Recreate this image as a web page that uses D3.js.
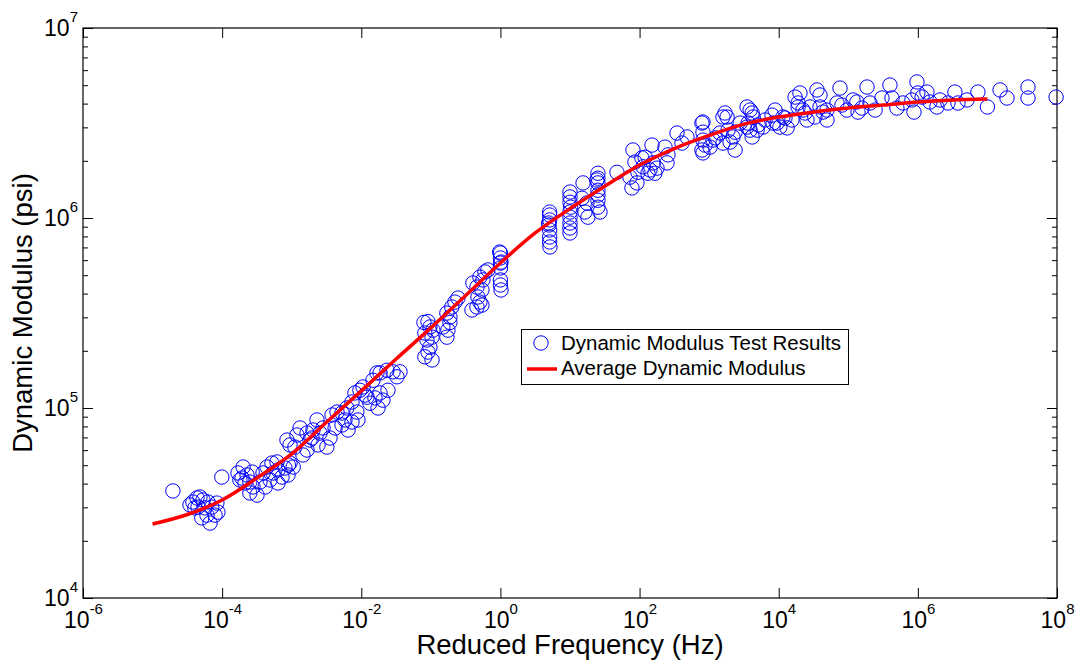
<!DOCTYPE html>
<html>
<head>
<meta charset="utf-8">
<script src="https://cdn.jsdelivr.net/npm/d3@7"></script>
<style>
  body { margin: 0; background: #fff; }
  text { font-family: "Liberation Sans", Arial, Helvetica, sans-serif; }
</style>
</head>
<body>
<script>
// test results: reduced frequency (Hz) and dynamic modulus (psi)
var testFreq = [
  1.96e-5, 9.9e-5, 3.8e-5, 4.35e-5, 4.8e-5, 5.3e-5, 6.25e-5, 4.5e-5, 5.65e-5, 7.1e-5,
  8.4e-5, 8.7e-5, 7.9e-5, 6.05e-5, 6.7e-5, 5.1e-5, 4.05e-5, 3.45e-5,
  2.0e-4, 1.69e-4, 1.93e-4, 2.28e-4, 2.7e-4, 2.5e-4, 2.13e-4, 2.78e-4, 3.17e-4, 2.5e-4,
  1.8e-4, 3.5e-4, 3.87e-4, 4.42e-4, 5.2e-4, 6.15e-4, 6.35e-4, 5.4e-4, 7.25e-4, 8.0e-4,
  9.45e-4, 4.88e-4, 6.35e-4, 4.15e-4, 8.85e-4, 1.05e-3, 9.45e-4,
  8.55e-4, 1.11e-3, 8.95e-4, 1.45e-3, 1.66e-3, 1.83e-3, 1.66e-3, 2.02e-3, 1.96e-3, 2.55e-3,
  2.82e-3, 3.2e-3, 3.55e-3, 4.2e-3, 3.8e-3, 4.48e-3, 5.28e-3, 5.83e-3, 6.45e-3, 7.35e-3,
  8.65e-3, 8.95e-3, 7.35e-3, 8.1e-3, 9.55e-3, 1.06e-2, 1.21e-2, 1.33e-2, 1.57e-2, 1.86e-2,
  1.74e-2, 1.47e-2, 1.86e-2, 2.34e-2, 2.86e-2, 3.26e-2, 2.42e-2, 2.05e-2, 1.68e-2, 1.32e-3,
  1.19e-3, 2.31e-3, 5.28e-3, 2.39e-3, 6.2e-3, 1.13e-2,
  3.6e-2, 8.2e-2, 9.1e-2, 9.7e-2, 8.8e-2, 1.04e-1, 8.2e-2, 1.07e-1, 9.7e-2, 7.95e-2,
  9.1e-2, 1.04e-1, 1.70e-1, 1.76e-1, 1.88e-1, 1.70e-1, 2.0e-1, 2.22e-1, 2.45e-1, 1.88e-1,
  1.49e-1, 4.6e-1, 5.07e-1, 4.75e-1, 5.42e-1, 4.6e-1, 5.6e-1, 5.07e-1, 5.99e-1, 4.02e-1,
  3.9e-1, 5.42e-1, 6.6e-1, 1.0, 1.0, 1.0, 1.0, 1.0, 1.0, 1.02, 0.975, 1.02,
  5.1, 5.1, 5.1, 5.0, 5.1, 5.1, 5.1, 5.15, 4.95,
  10, 10, 10, 10.2, 10, 10, 10, 10, 10,
  15.4, 17.5, 16.4, 18.1, 14.9,
  25.2, 25.2, 25.2, 25.2, 25.2, 25.2, 25.2, 27.0, 24.4,
  47.3, 80.3, 72.7, 77.7, 91.7, 94.7, 112, 132, 151, 156, 178, 108, 85.8,
  120, 141, 166, 232, 256, 248, 345, 480, 406, 788,
  815, 788, 1030, 1220, 1690, 1810, 1580, 2000, 1870, 2360,
  2790, 3510, 3880, 4150, 3510, 3880, 5060, 4290, 6370, 8870,
  9470, 11500, 13200, 17200, 20200, 19000, 22300, 25500, 35500, 39200,
  33000, 43300, 49400, 76000, 81000, 95500, 117000, 138000,
  815, 815, 875, 815, 1140, 1430, 1580, 2200, 2360, 3630,
  4890, 4150, 5970, 8000, 8300, 10400, 12300, 15500, 19000, 23900,
  28200, 39200, 49400, 68800, 133000, 157000, 186000, 205000, 243000, 305000,
  397000, 425000, 500000, 610000, 820000, 970000, 1.0e6, 880000, 1.15e6, 1.35e6,
  1.49e6, 1.88e6, 2.08e6, 2.71e6, 3.41e6, 3.77e6, 5.08e6, 7.3e6, 1.0e7, 1.52e7,
  1.91e7, 3.83e7, 3.83e7, 9.7e7
];
var testModulus = [
  36600, 43300, 32000, 33600, 34000, 32800, 32000, 30100, 29800, 30100,
  31600, 28300, 27300, 27300, 24800, 26400, 29800, 30900,
  48900, 45500, 42800, 44400, 46000, 40800, 40300, 38400, 34800, 35700,
  41800, 40800, 45500, 48900, 51300, 52000, 47200, 45500, 43300, 48300,
  51300, 41800, 40300, 38400, 44400, 48900, 63900,
  67800, 62300, 50100, 56600, 60100, 67800, 73800, 76600, 69500, 73800,
  78500, 62300, 69500, 78500, 91900, 95200, 94100, 86500, 76600, 84400,
  95200, 86500, 107500, 120000, 124000, 129000, 114000, 106000, 113000, 120000,
  100000, 140000, 153000, 158000, 155000, 146000, 124000, 110000, 153000, 78500,
  72100, 86500, 81400, 63900, 100000, 117000,
  155000, 186000, 197000, 209000, 228000, 236000, 248000, 257000, 267000, 282000,
  285000, 179000, 236000, 257000, 282000, 316000, 340000, 361000, 379000, 301000,
  267000, 340000, 361000, 384000, 418000, 433000, 472000, 489000, 520000, 455000,
  328000, 348000, 533000, 654000, 616000, 579000, 546000, 472000, 444000, 418000, 662000, 586000,
  1075000, 1037000, 977000, 919000, 865000, 794000, 748000, 704000, 941000,
  1370000, 1290000, 1210000, 1140000, 1075000, 1010000, 941000, 886000, 834000,
  1530000, 1200000, 1075000, 1010000, 1270000,
  1720000, 1620000, 1530000, 1400000, 1320000, 1240000, 1140000, 1075000, 1585000,
  1740000, 2280000, 1640000, 1440000, 1530000, 1740000, 1860000, 1720000, 2420000, 1950000, 1830000, 2070000, 1970000,
  2090000, 1790000, 1720000, 2360000, 2150000, 1950000, 2800000, 2670000, 2480000, 3160000,
  2570000, 2280000, 2360000, 2640000, 3570000, 3400000, 2480000, 2510000, 2900000, 2830000,
  3160000, 3840000, 3700000, 3570000, 3010000, 2900000, 3090000, 3400000, 3280000, 3700000,
  3160000, 3400000, 2980000, 4330000, 4550000, 4030000, 3700000, 3280000, 4720000, 4440000,
  3400000, 3610000, 3280000, 4830000, 3930000, 3700000, 4180000, 3610000,
  3200000, 2830000, 2420000, 2200000, 2570000, 2800000, 3400000, 2670000, 2280000, 3160000,
  2900000, 2670000, 3010000, 3480000, 3160000, 3010000, 3360000, 3280000, 3840000, 3570000,
  3840000, 3840000, 3700000, 4030000, 4080000, 3790000, 4890000, 4030000, 3700000, 4280000,
  5010000, 4280000, 3790000, 4030000, 4180000, 5200000, 4550000, 3610000, 4330000, 4600000,
  4080000, 3840000, 4180000, 4030000, 4600000, 4030000, 4180000, 4600000, 3840000, 4720000,
  4280000, 4890000, 4280000, 4330000
];

// average (master) curve
var avgFreq = [1e-5, 3.16e-5, 1e-4, 3.16e-4, 1e-3, 3.16e-3, 1e-2, 3.16e-2, 1e-1, 3.16e-1,
  1, 3.16, 10, 31.6, 100, 316, 1e3, 3.16e3, 1e4, 3.16e4, 1e5, 3.16e5, 1e6, 3.16e6, 1e7];
var avgModulus = [24500, 27500, 32800, 42800, 57300, 84100, 123000, 181000, 264000, 391000,
  580000, 834000, 1120000, 1470000, 1900000, 2320000, 2720000, 3120000, 3400000, 3610000,
  3790000, 3930000, 4080000, 4180000, 4230000];

var xTickExp = [-6, -4, -2, 0, 2, 4, 6, 8];
var yTickExp = [4, 5, 6, 7];
var legendLabels = ['Dynamic Modulus Test Results', 'Average Dynamic Modulus'];

var W = 1083, H = 668;
var L = 83, R = 1057, T = 28, B = 598;

var x = d3.scaleLog().domain([1e-6, 1e8]).range([L, R]);
var y = d3.scaleLog().domain([1e4, 1e7]).range([B, T]);

var svg = d3.select('body').append('svg')
  .attr('width', W)
  .attr('height', H);

svg.append('rect').attr('width', W).attr('height', H).attr('fill', '#fff');

var xMajor = xTickExp.map(function(e) { return Math.pow(10, e); });
var yMajor = yTickExp.map(function(e) { return Math.pow(10, e); });
var yMinor = y.ticks().filter(function(v) {
  var l = Math.log10(v);
  return Math.abs(l - Math.round(l)) > 1e-6;
});

// ticks, all pointing inward
function tickAxis(axis, tx, ty) {
  var g = svg.append('g')
    .attr('transform', 'translate(' + tx + ',' + ty + ')')
    .attr('color', '#000')
    .call(axis);
  g.select('.domain').remove();
  g.selectAll('line').attr('stroke-width', 1);
  return g;
}

var gx = tickAxis(d3.axisBottom(x).tickValues(xMajor).tickSize(-10).tickSizeOuter(0).tickFormat(''), 0, B);
tickAxis(d3.axisTop(x).tickValues(xMajor).tickSize(-10).tickSizeOuter(0).tickFormat(''), 0, T)
  .selectAll('text').remove();
var gy = tickAxis(d3.axisLeft(y).tickValues(yMajor).tickSize(-10).tickSizeOuter(0).tickFormat(''), L, 0);
tickAxis(d3.axisRight(y).tickValues(yMajor).tickSize(-10).tickSizeOuter(0).tickFormat(''), R, 0)
  .selectAll('text').remove();
tickAxis(d3.axisLeft(y).tickValues(yMinor).tickSize(-5).tickSizeOuter(0).tickFormat(''), L, 0)
  .selectAll('text').remove();
tickAxis(d3.axisRight(y).tickValues(yMinor).tickSize(-5).tickSizeOuter(0).tickFormat(''), R, 0)
  .selectAll('text').remove();

// power-of-ten labels
function powerLabel(sel) {
  sel.text(null)
    .attr('font-size', 23)
    .attr('font-family', '"Liberation Sans", Arial, Helvetica, sans-serif')
    .attr('fill', '#000')
    .attr('dy', null)
    .each(function(d) {
      var t = d3.select(this);
      t.append('tspan').text('10');
      t.append('tspan').attr('dy', -14).attr('font-size', 15)
        .text(Math.round(Math.log10(d)));
    });
}
gx.selectAll('.tick text').call(powerLabel).attr('y', 30).attr('text-anchor', 'middle');
gy.selectAll('.tick text').call(powerLabel).attr('x', -5).attr('y', 7).attr('text-anchor', 'end');

// frame
svg.append('rect')
  .attr('x', L).attr('y', T)
  .attr('width', R - L).attr('height', B - T)
  .attr('fill', 'none')
  .attr('stroke', '#000')
  .attr('stroke-width', 1.2);

// axis titles
svg.append('text')
  .attr('x', (L + R) / 2).attr('y', 654)
  .attr('text-anchor', 'middle')
  .attr('font-size', 27.5)
  .text('Reduced Frequency (Hz)');

svg.append('text')
  .attr('transform', 'translate(32,' + (T + B) / 2 + ') rotate(-90)')
  .attr('text-anchor', 'middle')
  .attr('font-size', 27.5)
  .text('Dynamic Modulus (psi)');

// test points
var points = testFreq.map(function(f, i) { return { f: f, E: testModulus[i] }; });
svg.append('g').selectAll('circle')
  .data(points)
  .enter().append('circle')
  .attr('cx', function(d) { return x(d.f); })
  .attr('cy', function(d) { return y(d.E); })
  .attr('r', 7.2)
  .attr('fill', 'none')
  .attr('stroke', '#0000ff')
  .attr('stroke-width', 1);

// average curve
var avg = avgFreq.map(function(f, i) { return { f: f, E: avgModulus[i] }; });
var line = d3.line()
  .x(function(d) { return x(d.f); })
  .y(function(d) { return y(d.E); })
  .curve(d3.curveMonotoneX);
svg.append('path')
  .datum(avg)
  .attr('d', line)
  .attr('fill', 'none')
  .attr('stroke', '#ff0000')
  .attr('stroke-width', 3.5);

// legend
var lg = svg.append('g');
lg.append('rect')
  .attr('x', 521.5).attr('y', 329.5)
  .attr('width', 327).attr('height', 55)
  .attr('fill', '#fff')
  .attr('stroke', '#000')
  .attr('stroke-width', 1);
lg.append('circle')
  .attr('cx', 541).attr('cy', 343).attr('r', 7.2)
  .attr('fill', 'none').attr('stroke', '#0000ff');
lg.append('line')
  .attr('x1', 527).attr('x2', 557).attr('y1', 369).attr('y2', 369)
  .attr('stroke', '#ff0000').attr('stroke-width', 3.5);
lg.selectAll('text.lab')
  .data(legendLabels)
  .enter().append('text')
  .attr('class', 'lab')
  .attr('x', 561)
  .attr('y', function(d, i) { return 350 + i * 25; })
  .attr('font-size', 20.5)
  .text(function(d) { return d; });
</script>
</body>
</html>
